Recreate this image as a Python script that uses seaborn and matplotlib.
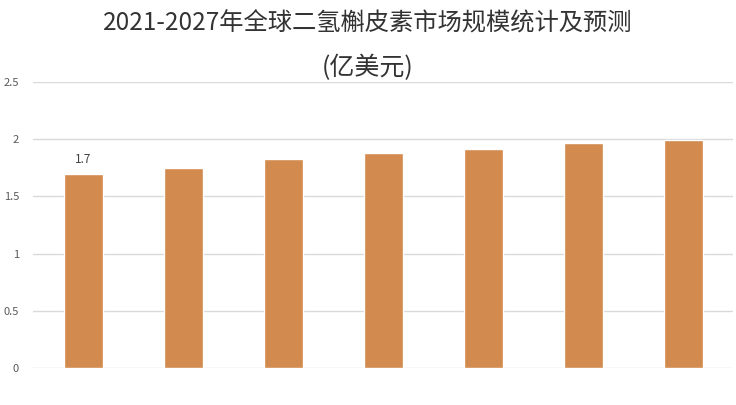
import pandas as pd
import matplotlib.pyplot as plt
import seaborn as sns

# market size data
years = ['2021', '2022', '2023', '2024', '2025', '2026', '2027']
market_size = [1.70, 1.75, 1.83, 1.88, 1.915, 1.97, 1.99]
y_ticks = [0, 0.5, 1, 1.5, 2, 2.5]

df = pd.DataFrame({'year': years, 'size': market_size})

sns.set_theme(style='white')
plt.rcParams['font.family'] = ['Noto Sans CJK SC', 'DejaVu Sans']

fig = plt.figure(figsize=(7.36, 4.05), dpi=100)
ax = fig.add_axes([33 / 736, 1 - 368 / 405, 700 / 736, 286 / 405])

sns.barplot(data=df, x='year', y='size', color='#D38A4E', width=0.39,
            saturation=1, ax=ax, zorder=3)

ax.set_ylim(0, 2.5)
ax.set_xlim(-0.5, len(years) - 0.5)
ax.set_yticks(y_ticks)
ax.set_yticklabels(['0', '0.5', '1', '1.5', '2', '2.5'])
ax.tick_params(axis='y', colors='#595959', labelsize=8, length=0, pad=10)
ax.set_xticks([])
ax.yaxis.grid(True, color='#D9D9D9', linewidth=1, zorder=0)
ax.set_xlabel('')
ax.set_ylabel('')
for side in ['top', 'right', 'left', 'bottom']:
    ax.spines[side].set_visible(False)

# only the first bar carries a value label
ax.text(0, market_size[0] + 0.07, '1.7', ha='center', va='bottom',
        fontsize=8.5, color='#404040')

fig.text(0.5, 1 - 24 / 405, '2021-2027年全球二氢槲皮素市场规模统计及预测',
         ha='center', va='center', fontsize=17.5, color='#333333')
fig.text(0.5, 1 - 68 / 405, '(亿美元)', ha='center', va='center',
         fontsize=18, color='#333333')

fig.savefig('out.png', dpi=100)
plt.close()
